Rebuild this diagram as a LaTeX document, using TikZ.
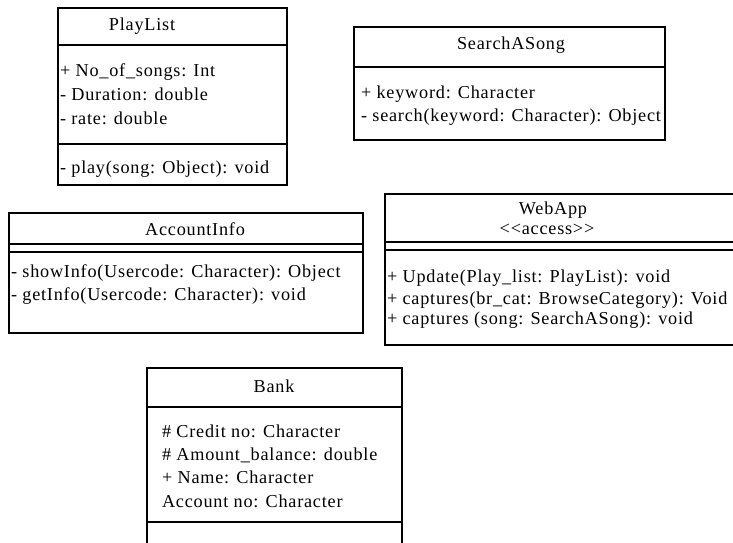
\documentclass[tikz,border=0pt]{standalone}
\usepackage{fontspec}
\setmainfont{Liberation Serif}[LetterSpace=4.3]
\begin{document}
\begin{tikzpicture}[x=1pt,y=-1pt,
  every node/.style={inner sep=0pt,outer sep=0pt,font=\fontsize{18.2}{20}\selectfont,text=black},
  box/.style={draw=black,line width=1.2pt},
  sep/.style={draw=black,line width=1.4pt},
  lbl/.style={anchor=base west},
  ttl/.style={anchor=base}]
\useasboundingbox (0,0) rectangle (733,543);
\fill[white] (0,0) rectangle (733,543);
\clip (0,0) rectangle (733,543);

% PlayList
\draw[box] (58,8) rectangle (287,185);
\draw[sep] (58,45) -- (287,45);
\draw[sep] (58,144) -- (287,144);
\node[ttl] (pl) at (142,31) {PlayList};
\node[lbl] (pl1) at (60,77) {+ No\_of\_songs: Int};
\node[lbl] (pl2) at (60,100) {- Duration: double};
\node[lbl] (pl3) at (60,124) {- rate: double};
\node[lbl] (pl4) at (60,173) {- play(song: Object): void};

% SearchASong
\draw[box] (354,27) rectangle (665,140);
\draw[sep] (354,67) -- (665,67);
\node[ttl] (sa) at (511,50) {SearchASong};
\node[lbl] (sa1) at (361,98) {+ keyword: Character};
\node[lbl] (sa2) at (361,121) {- search(keyword: Character): Object};

% AccountInfo
\draw[box] (9,213) rectangle (363,333);
\draw[sep] (9,244) -- (363,244);
\draw[sep] (9,252) -- (363,252);
\node[ttl] (ai) at (195,235) {AccountInfo};
\node[lbl] (ai1) at (11,277) {- showInfo(Usercode: Character): Object};
\node[lbl] (ai2) at (11,300) {- getInfo(Usercode: Character): void};

% WebApp
\draw[box] (385,194) rectangle (745,345);
\draw[sep] (385,242) -- (745,242);
\draw[sep] (385,250) -- (745,250);
\node[ttl] (wa) at (553,214) {WebApp};
\node[ttl] (wa0) at (547,234) {{<}{<}access{>}{>}};
\node[lbl] (wa1) at (387,282) {+ Update(Play\_list: PlayList): void};
\node[lbl] (wa2) at (387,304) {+ captures(br\_cat: BrowseCategory): Void};
\node[lbl] (wa3) at (387,324) {+ captures (song: SearchASong): void};

% Bank
\draw[box] (147,368) rectangle (402,560);
\draw[sep] (147,407) -- (402,407);
\draw[sep] (147,522) -- (402,522);
\node[ttl] (bk) at (274,392) {Bank};
\node[lbl] (bk1) at (162,437) {\# Credit no: Character};
\node[lbl] (bk2) at (162,460) {\# Amount\_balance: double};
\node[lbl] (bk3) at (162,483) {+ Name: Character};
\node[lbl] (bk4) at (162,507) {Account no: Character};
\end{tikzpicture}
\end{document}
